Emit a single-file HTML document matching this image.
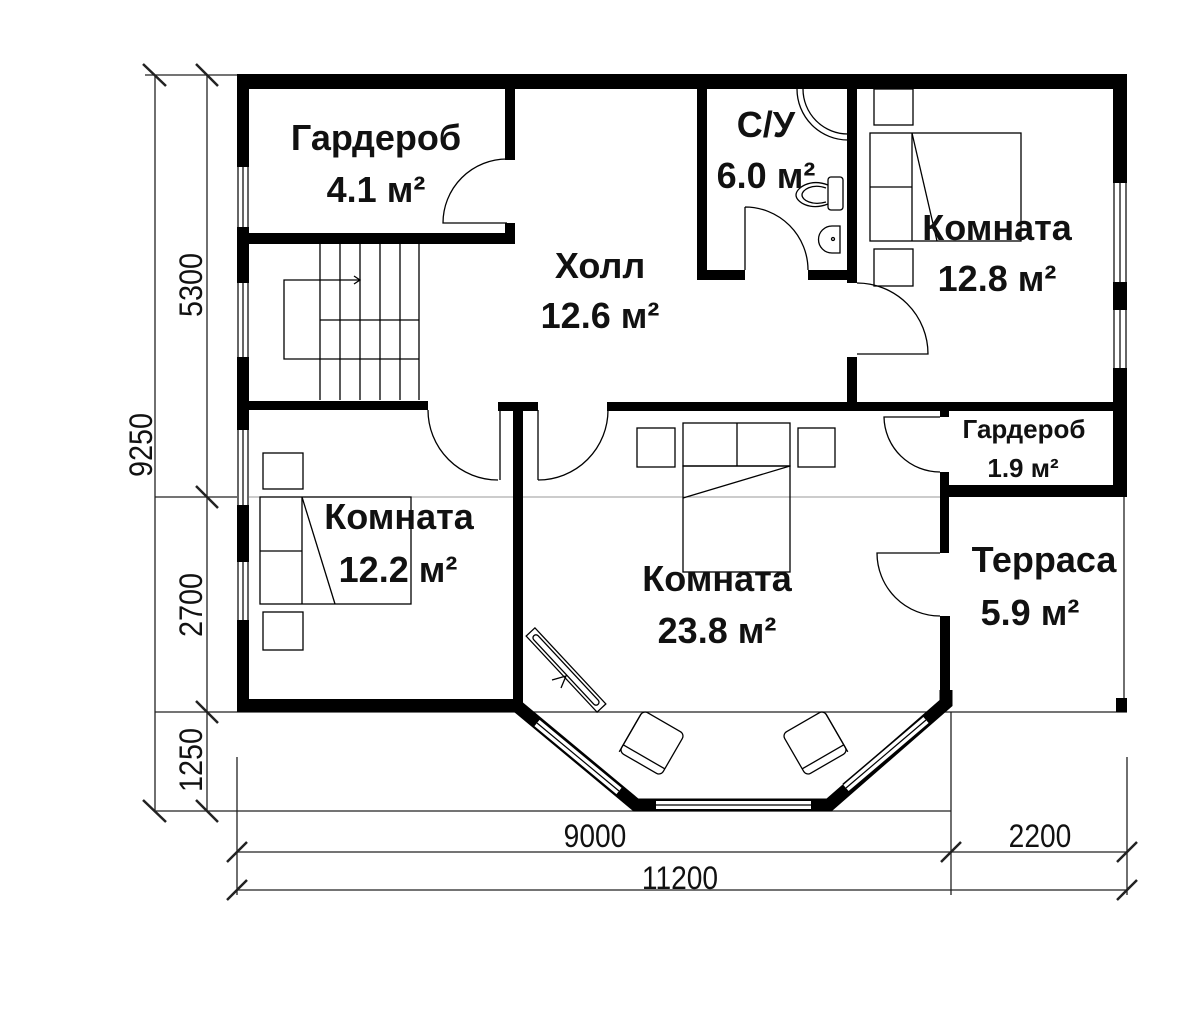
<!DOCTYPE html>
<html><head><meta charset="utf-8"><style>
html,body{margin:0;padding:0;background:#fff;width:1200px;height:1016px;overflow:hidden}
svg{display:block}
.l{font-family:"Liberation Sans",sans-serif;font-weight:bold;font-size:36px;text-anchor:middle;fill:#111}
.s{font-size:26px}
.d{font-family:"Liberation Sans",sans-serif;font-size:32px;text-anchor:middle;fill:#111}
</style></head><body>
<svg width="1200" height="1016" viewBox="0 0 1200 1016" xmlns="http://www.w3.org/2000/svg">
<g stroke="#222" stroke-width="1.3" fill="none">
<!-- dimension lines left -->
<line x1="155" y1="75" x2="155" y2="811"/>
<line x1="207" y1="75" x2="207" y2="811"/>
<line x1="145" y1="75" x2="237" y2="75"/>
<line x1="155" y1="497" x2="237" y2="497"/>
<line x1="155" y1="712" x2="237" y2="712"/>
<line x1="155" y1="811" x2="237" y2="811"/>
<line x1="143" y1="64" x2="166" y2="86" stroke-width="2.5"/>
<line x1="196" y1="64" x2="218" y2="86" stroke-width="2.5"/>
<line x1="196" y1="486" x2="218" y2="508" stroke-width="2.5"/>
<line x1="196" y1="701" x2="218" y2="723" stroke-width="2.5"/>
<line x1="143" y1="800" x2="166" y2="822" stroke-width="2.5"/>
<line x1="196" y1="800" x2="218" y2="822" stroke-width="2.5"/>
<!-- bottom dims -->
<line x1="237" y1="712" x2="1127" y2="712"/>
<line x1="237" y1="811" x2="951" y2="811"/>
<line x1="237" y1="757" x2="237" y2="895"/>
<line x1="951" y1="712" x2="951" y2="895"/>
<line x1="1127" y1="757" x2="1127" y2="895"/>
<line x1="237" y1="852" x2="1127" y2="852"/>
<line x1="237" y1="890" x2="1127" y2="890"/>
<line x1="227" y1="862" x2="247" y2="842" stroke-width="2.5"/>
<line x1="941" y1="862" x2="961" y2="842" stroke-width="2.5"/>
<line x1="1117" y1="862" x2="1137" y2="842" stroke-width="2.5"/>
<line x1="227" y1="900" x2="247" y2="880" stroke-width="2.5"/>
<line x1="1117" y1="900" x2="1137" y2="880" stroke-width="2.5"/>
<line x1="249" y1="497" x2="940" y2="497" stroke="#999" stroke-width="1"/>
<!-- terrace thin -->
<line x1="1124" y1="497" x2="1124" y2="712"/>
</g>
<!-- walls -->
<g fill="#000">
<rect x="237" y="74" width="890" height="15"/>
<rect x="237" y="74" width="12" height="638"/>
<rect x="1113" y="74" width="14" height="423"/>
<rect x="505" y="74" width="10" height="86"/>
<rect x="505" y="223" width="10" height="21"/>
<rect x="237" y="233" width="278" height="11"/>
<rect x="697" y="74" width="10" height="206"/>
<rect x="697" y="270" width="48" height="10"/>
<rect x="808" y="270" width="49" height="10"/>
<rect x="847" y="74" width="10" height="209"/>
<rect x="847" y="357" width="10" height="53"/>
<rect x="607" y="402" width="520" height="9"/>
<rect x="237" y="401" width="191" height="9"/>
<rect x="498" y="402" width="40" height="9"/>
<rect x="513" y="402" width="10" height="305"/>
<rect x="940" y="402" width="9" height="15"/>
<rect x="940" y="472" width="9" height="81"/>
<rect x="940" y="485" width="187" height="12"/>
<rect x="940" y="616" width="10" height="80"/>
<rect x="1116" y="698" width="11" height="14"/>
<rect x="237" y="699" width="286" height="13"/>
</g>
<g stroke="#000" stroke-width="1.3" fill="none">
<line x1="500" y1="410" x2="500" y2="480"/>
<line x1="538" y1="410" x2="538" y2="480"/>
</g>
<!-- bay -->
<polyline points="517,706 636,805 829,805 946,703 946,690" fill="none" stroke="#000" stroke-width="13" stroke-linejoin="miter"/>
<g fill="none" stroke-linecap="butt">
<g stroke="#000" stroke-width="11"><line x1="537" y1="723" x2="619" y2="791"/><line x1="656" y1="805" x2="811" y2="805"/><line x1="846" y1="788" x2="926" y2="720"/></g>
<g stroke="#fff" stroke-width="8"><line x1="537" y1="723" x2="619" y2="791"/><line x1="656" y1="805" x2="811" y2="805"/><line x1="846" y1="788" x2="926" y2="720"/></g>
<g stroke="#000" stroke-width="1.2"><line x1="537" y1="723" x2="619" y2="791"/><line x1="656" y1="805" x2="811" y2="805"/><line x1="846" y1="788" x2="926" y2="720"/></g>
</g>
<!-- windows -->
<g>
<rect x="237" y="167" width="12" height="60" fill="#fff"/>
<rect x="237" y="283" width="12" height="74" fill="#fff"/>
<rect x="237" y="430" width="12" height="75" fill="#fff"/>
<rect x="237" y="562" width="12" height="58" fill="#fff"/>
<rect x="1113" y="183" width="14" height="99" fill="#fff"/>
<rect x="1113" y="310" width="14" height="58" fill="#fff"/>
</g>
<g stroke="#000" stroke-width="1.2">
<line x1="238" y1="167" x2="238" y2="227"/><line x1="243" y1="167" x2="243" y2="227"/><line x1="248" y1="167" x2="248" y2="227"/>
<line x1="238" y1="283" x2="238" y2="357"/><line x1="243" y1="283" x2="243" y2="357"/><line x1="248" y1="283" x2="248" y2="357"/>
<line x1="238" y1="430" x2="238" y2="505"/><line x1="243" y1="430" x2="243" y2="505"/><line x1="248" y1="430" x2="248" y2="505"/>
<line x1="238" y1="562" x2="238" y2="620"/><line x1="243" y1="562" x2="243" y2="620"/><line x1="248" y1="562" x2="248" y2="620"/>
<line x1="1114" y1="183" x2="1114" y2="282"/><line x1="1120" y1="183" x2="1120" y2="282"/><line x1="1126" y1="183" x2="1126" y2="282"/>
<line x1="1114" y1="310" x2="1114" y2="368"/><line x1="1120" y1="310" x2="1120" y2="368"/><line x1="1126" y1="310" x2="1126" y2="368"/>
</g>
<!-- doors -->
<g stroke="#000" stroke-width="1.3" fill="none">
<path d="M507,223 H443 A64,64 0 0 1 507,159"/>
<path d="M745,207 V270 M745,207 A63,63 0 0 1 808,270"/>
<path d="M857,283 A71,71 0 0 1 928,354 H857"/>
<path d="M428,410 A70,70 0 0 0 498,480"/>
<path d="M538,480 A70,70 0 0 0 608,410"/>
<path d="M940,472 A56,56 0 0 1 884,417 H940"/>
<path d="M940,553 H877 A63,63 0 0 0 940,616"/>
<!-- stairs -->
<line x1="320" y1="244" x2="320" y2="400"/><line x1="340" y1="244" x2="340" y2="400"/>
<line x1="360" y1="244" x2="360" y2="400"/><line x1="380" y1="244" x2="380" y2="400"/>
<line x1="400" y1="244" x2="400" y2="400"/><line x1="419" y1="244" x2="419" y2="400"/>
<line x1="320" y1="320" x2="419" y2="320"/>
<path d="M360,280 H284 V359 H419"/>
<path d="M354,276 L360,280 L354,284"/>
<!-- shower -->
<path d="M797,89 A51,51 0 0 0 848,140"/>
<path d="M803,89 A45,45 0 0 0 848,134"/>
<!-- toilet -->
<rect x="828" y="177" width="15" height="33" rx="3"/>
<path d="M828,185 C810,178 796,188 796,195 C796,202 810,211 828,204"/>
<path d="M826,188 C812,183 802,190 802,195 C802,200 812,206 826,202"/>
<!-- sink -->
<path d="M840,226 V253 H832 A13,13 0 0 1 832,226 Z"/>
<circle cx="833" cy="239" r="1.5"/>
<!-- room 12.8 furniture -->
<rect x="874" y="89" width="39" height="36"/>
<rect x="870" y="133" width="151" height="108"/>
<line x1="912" y1="133" x2="912" y2="241"/>
<line x1="870" y1="187" x2="912" y2="187"/>
<line x1="912" y1="133" x2="937" y2="241"/>
<rect x="874" y="249" width="39" height="37"/>
<!-- room 12.2 furniture -->
<rect x="263" y="453" width="40" height="36"/>
<rect x="260" y="497" width="151" height="107"/>
<line x1="302" y1="497" x2="302" y2="604"/>
<line x1="260" y1="551" x2="302" y2="551"/>
<line x1="302" y1="497" x2="335" y2="604"/>
<rect x="263" y="612" width="40" height="38"/>
<!-- room 23.8 furniture -->
<rect x="637" y="428" width="38" height="39"/>
<rect x="683" y="423" width="107" height="43"/>
<line x1="737" y1="423" x2="737" y2="466"/>
<rect x="683" y="466" width="107" height="106"/>
<line x1="790" y1="466" x2="683" y2="498"/>
<rect x="798" y="428" width="37" height="39"/>
<g transform="translate(566,670) rotate(47)"><rect x="-52" y="-6" width="104" height="12"/><rect x="-47" y="-3" width="94" height="6" rx="3"/></g>
<path d="M552,680 L566,676 L561,688"/>
<g transform="translate(652,743) rotate(30)"><rect x="-24" y="-24" width="48" height="48" rx="5"/><line x1="-24" y1="16" x2="24" y2="16"/><line x1="-24" y1="24" x2="-24" y2="-20"/></g>
<g transform="translate(815,743) rotate(-30)"><rect x="-24" y="-24" width="48" height="48" rx="5"/><line x1="-24" y1="16" x2="24" y2="16"/><line x1="24" y1="24" x2="24" y2="-20"/></g>
</g>
<!-- labels -->
<text class="l" x="376" y="150">Гардероб</text>
<text class="l" x="376" y="202">4.1 м²</text>
<text class="l" x="766" y="137">С/У</text>
<text class="l" x="766" y="188">6.0 м²</text>
<text class="l" x="600" y="278">Холл</text>
<text class="l" x="600" y="328">12.6 м²</text>
<text class="l" x="997" y="240">Комната</text>
<text class="l" x="997" y="291">12.8 м²</text>
<text class="l" x="399" y="529">Комната</text>
<text class="l" x="398" y="582">12.2 м²</text>
<text class="l" x="717" y="591">Комната</text>
<text class="l" x="717" y="643">23.8 м²</text>
<text class="l s" x="1024" y="438">Гардероб</text>
<text class="l s" x="1023" y="477">1.9 м²</text>
<text class="l" x="1044" y="572">Терраса</text>
<text class="l" x="1030" y="625">5.9 м²</text>
<!-- dim labels -->
<text class="d" transform="translate(595,847) scale(0.88,1)">9000</text>
<text class="d" transform="translate(1040,847) scale(0.88,1)">2200</text>
<text class="d" transform="translate(680,889) scale(0.88,1)">11200</text>
<text class="d" transform="translate(202,285) rotate(-90) scale(0.9,1)">5300</text>
<text class="d" transform="translate(152,445) rotate(-90) scale(0.9,1)">9250</text>
<text class="d" transform="translate(202,605) rotate(-90) scale(0.9,1)">2700</text>
<text class="d" transform="translate(202,760) rotate(-90) scale(0.9,1)">1250</text>
</svg>
</body></html>
